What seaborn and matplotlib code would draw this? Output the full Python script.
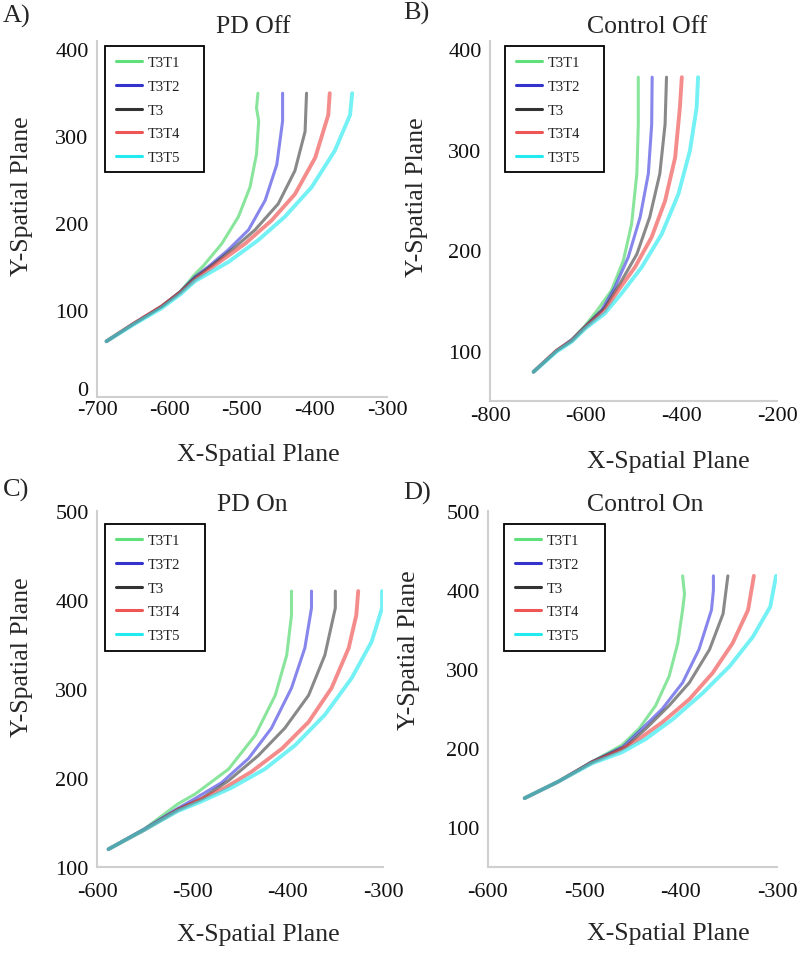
import matplotlib
matplotlib.use("Agg")
import matplotlib.pyplot as plt
import matplotlib.transforms as mtransforms
from matplotlib.patches import Rectangle
import pandas as pd
import seaborn as sns
from matplotlib.lines import Line2D

# ---------------- data ----------------
series = ["T3T1", "T3T2", "T3", "T3T4", "T3T5"]
colors = ["#3ad45a", "#3535e0", "#3a3a3a", "#ee4040", "#18e8ee"]
legend_colors = ["#5fe07a", "#3434cc", "#333333", "#ee5555", "#22eaee"]
line_w = [2.2, 2.2, 2.2, 2.8, 2.8]

titles = ["PD Off", "Control Off", "PD On", "Control On"]
panel_tags = ["A)", "B)", "C)", "D)"]

# Panel A (PD Off)
A_T3T1_x = [-687, -650, -611, -585, -565, -553, -528, -505, -489, -480, -477, -480, -478]
A_T3T1_y = [64, 84, 104, 121, 141, 151, 176, 207, 241, 279, 317, 332, 349]
A_T3T2_x = [-687, -650, -611, -585, -565, -546, -519, -491, -468, -452, -444, -444]
A_T3T2_y = [64, 84, 104, 121, 138, 150, 169, 192, 226, 267, 317, 349]
A_T3_x = [-687, -650, -611, -585, -565, -542, -510, -482, -450, -427, -413, -411]
A_T3_y = [64, 84, 104, 121, 137, 151, 172, 192, 222, 260, 305, 349]
A_T3T4_x = [-687, -650, -611, -585, -563, -533, -496, -459, -427, -399, -381, -379]
A_T3T4_y = [64, 84, 104, 120, 136, 154, 176, 203, 233, 275, 324, 349]
A_T3T5_x = [-687, -650, -611, -585, -565, -519, -478, -441, -404, -372, -351, -348]
A_T3T5_y = [64, 83, 102, 118, 133, 155, 180, 207, 241, 283, 324, 349]

# Panel B (Control Off)
B_T3T1_x = [-709, -661, -629, -601, -576, -546, -521, -504, -493, -490, -490]
B_T3T1_y = [79, 100, 111, 125, 140, 160, 190, 226, 276, 325, 372]
B_T3T2_x = [-709, -661, -629, -601, -567, -539, -511, -486, -469, -462, -461]
B_T3T2_y = [79, 100, 111, 124, 140, 163, 193, 233, 276, 325, 372]
B_T3_x = [-709, -661, -629, -601, -560, -528, -493, -466, -445, -434, -431]
B_T3_y = [79, 100, 110, 124, 143, 167, 196, 233, 276, 325, 372]
B_T3T4_x = [-709, -661, -629, -601, -560, -532, -497, -462, -434, -413, -403, -399]
B_T3T4_y = [79, 100, 110, 123, 140, 160, 183, 213, 249, 292, 342, 372]
B_T3T5_x = [-709, -661, -629, -601, -560, -525, -483, -441, -406, -382, -368, -365]
B_T3T5_y = [79, 99, 109, 122, 137, 157, 183, 216, 256, 299, 342, 372]

# Panel C (PD On)
C_T3T1_x = [-588, -550, -515, -497, -462, -434, -413, -401, -396, -396]
C_T3T1_y = [120, 143, 171, 182, 210, 248, 293, 338, 383, 410]
C_T3T2_x = [-588, -550, -515, -497, -469, -441, -417, -396, -382, -375, -375]
C_T3T2_y = [120, 143, 166, 177, 195, 222, 256, 301, 346, 391, 410]
C_T3_x = [-588, -550, -515, -490, -462, -431, -403, -378, -361, -350, -350]
C_T3_y = [120, 142, 165, 177, 197, 225, 256, 293, 338, 391, 410]
C_T3T4_x = [-588, -550, -515, -497, -466, -438, -406, -378, -354, -336, -328, -326]
C_T3T4_y = [120, 142, 164, 173, 189, 207, 233, 263, 301, 346, 383, 410]
C_T3T5_x = [-588, -550, -515, -492, -459, -424, -392, -361, -333, -312, -301, -301]
C_T3T5_y = [120, 142, 163, 173, 189, 210, 237, 271, 312, 353, 391, 410]

# Panel D (Control On)
D_T3T1_x = [-562, -527, -492, -461, -443, -426, -412, -403, -398, -396, -398]
D_T3T1_y = [137, 158, 183, 204, 225, 254, 291, 333, 375, 395, 418]
D_T3T2_x = [-562, -527, -492, -460, -440, -419, -398, -381, -368, -366, -366]
D_T3T2_y = [137, 158, 183, 202, 225, 250, 283, 325, 375, 400, 418]
D_T3_x = [-562, -527, -492, -457, -436, -412, -391, -370, -356, -351]
D_T3_y = [137, 158, 183, 202, 225, 254, 283, 325, 370, 418]
D_T3T4_x = [-562, -527, -492, -464, -443, -419, -391, -367, -346, -330, -324]
D_T3T4_y = [137, 158, 182, 197, 212, 233, 262, 295, 333, 375, 418]
D_T3T5_x = [-562, -527, -492, -461, -436, -408, -377, -349, -325, -307, -301]
D_T3T5_y = [137, 158, 181, 195, 212, 237, 270, 304, 341, 379, 418]

panel_data = [
    [(A_T3T1_x, A_T3T1_y), (A_T3T2_x, A_T3T2_y), (A_T3_x, A_T3_y), (A_T3T4_x, A_T3T4_y), (A_T3T5_x, A_T3T5_y)],
    [(B_T3T1_x, B_T3T1_y), (B_T3T2_x, B_T3T2_y), (B_T3_x, B_T3_y), (B_T3T4_x, B_T3T4_y), (B_T3T5_x, B_T3T5_y)],
    [(C_T3T1_x, C_T3T1_y), (C_T3T2_x, C_T3T2_y), (C_T3_x, C_T3_y), (C_T3T4_x, C_T3T4_y), (C_T3T5_x, C_T3T5_y)],
    [(D_T3T1_x, D_T3T1_y), (D_T3T2_x, D_T3T2_y), (D_T3_x, D_T3_y), (D_T3T4_x, D_T3T4_y), (D_T3T5_x, D_T3T5_y)],
]

x_ticks = [[-700, -600, -500, -400, -300], [-800, -600, -400, -200],
           [-600, -500, -400, -300], [-600, -500, -400, -300]]
y_ticks = [[0, 100, 200, 300, 400], [100, 200, 300, 400],
           [100, 200, 300, 400, 500], [100, 200, 300, 400, 500]]
x_lims = [(-700, -300), (-800, -200), (-600, -300), (-600, -300)]
y_lims = [(0, 409), (50, 408), (100, 500), (50, 500)]

# ---------------- layout (pixels) ----------------
W, H = 800, 954
axes_px = [(97, 42, 387, 398), (490, 42, 777, 402), (97, 512, 383, 868), (488, 512, 777, 868)]
legend_box_px = [(105, 47, 204, 173), (505, 47, 604, 173), (105, 525, 205, 652), (504, 525, 605, 652)]
title_px = [(253, 27), (647, 27), (252, 505), (645, 505)]
xlabel_px = [(258, 444), (668, 451), (258, 924), (668, 923)]
ylabel_px = [(33, 196), (428, 197), (33, 657), (420, 650)]
tag_px = [(3, 16), (403, 13), (3, 490), (403, 493)]
xtick_pad = [2, 3.5, 10.5, 10.5]

sns.set_theme(style="white")
plt.rcParams['font.family'] = ['Liberation Serif', 'DejaVu Serif']

fig = plt.figure(figsize=(W / 100, H / 100), dpi=100)
spine_col = "#cfcfcf"

for i in range(4):
    l, t, r, b = axes_px[i]
    aw, ah = r - l, b - t
    ax = fig.add_axes([l / W, 1 - b / H, aw / W, ah / H])
    fx = lambda px: (px - l) / aw
    fy = lambda py: (b - py) / ah

    frames = []
    for s, (xs, ys) in zip(series, panel_data[i]):
        frames.append(pd.DataFrame({"x": xs, "y": ys, "series": s}))
    df = pd.concat(frames, ignore_index=True)
    for s, c, lw in zip(series, colors, line_w):
        sub = df[df["series"] == s]
        sns.lineplot(data=sub, x="x", y="y", sort=False, estimator=None,
                     color=c, lw=lw, alpha=0.6, ax=ax, legend=False)
    ax.set_xlim(*x_lims[i])
    ax.set_ylim(*y_lims[i])
    ax.set_xticks(x_ticks[i])
    ax.set_yticks(y_ticks[i])
    ax.set_xticklabels([str(v) for v in x_ticks[i]])
    ax.set_yticklabels([str(v) for v in y_ticks[i]])
    for sp in ["top", "right"]:
        ax.spines[sp].set_visible(False)
    for sp in ["left", "bottom"]:
        ax.spines[sp].set_color(spine_col)
        ax.spines[sp].set_linewidth(1.5)
    ax.tick_params(axis="both", direction="in", length=3, width=1, color=spine_col,
                   labelsize=16, labelcolor="#111111")
    ax.tick_params(axis="x", pad=xtick_pad[i])
    ax.tick_params(axis="y", pad=6)
    if i == 0:
        # lift the "0" label slightly so it does not collide with "-700"
        lab0 = ax.get_yticklabels()[0]
        lab0.set_transform(lab0.get_transform() +
                           mtransforms.ScaledTranslation(0, 9 / 100, fig.dpi_scale_trans))

    ax.set_xlabel("X-Spatial Plane", fontsize=18.5)
    ax.set_ylabel("Y-Spatial Plane", fontsize=18.5)
    ax.xaxis.set_label_coords(fx(xlabel_px[i][0]), fy(xlabel_px[i][1]))
    ax.yaxis.set_label_coords(fx(ylabel_px[i][0]), fy(ylabel_px[i][1]))
    ax.text(fx(title_px[i][0]), fy(title_px[i][1]), titles[i], transform=ax.transAxes,
            ha="center", va="center", fontsize=18.5)

    # legend box + entries
    bl, bt, br, bb = legend_box_px[i]
    ax.add_patch(Rectangle((fx(bl), fy(bb)), (br - bl) / aw, (bb - bt) / ah,
                           transform=ax.transAxes, fill=True, facecolor="white",
                           edgecolor="black", lw=1.3, zorder=5, clip_on=False))
    handles = [Line2D([0], [0], color=c, lw=2.2) for c in legend_colors]
    leg = ax.legend(handles, series, loc="upper left",
                    bbox_to_anchor=(fx(bl + 11), fy(bt + 10)),
                    borderaxespad=0, borderpad=0, fontsize=10.5, frameon=False,
                    handlelength=1.8, handletextpad=0.35, labelspacing=0.72)
    leg.set_zorder(6)
    for txt in leg.get_texts():
        txt.set_color("#222222")

    fig.text(tag_px[i][0] / W, 1 - tag_px[i][1] / H, panel_tags[i], fontsize=19,
             ha="left", va="center")

fig.savefig("out.png", dpi=100)
